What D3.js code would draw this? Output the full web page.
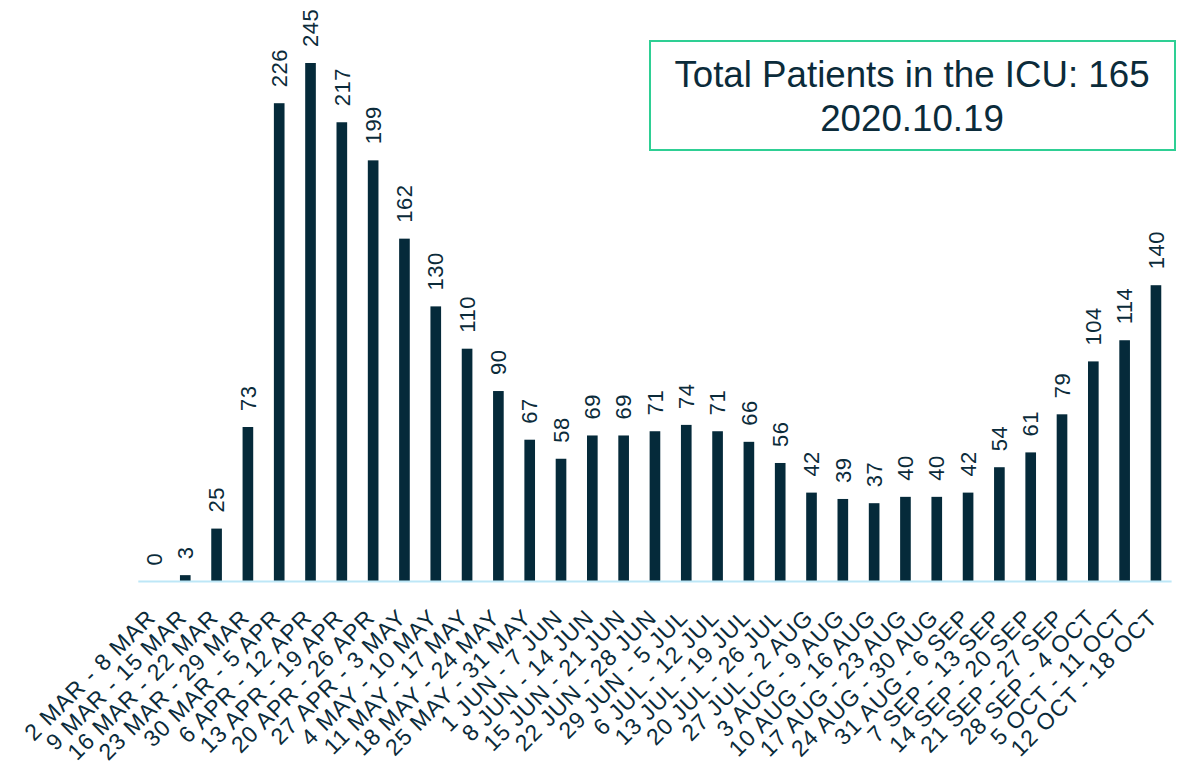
<!DOCTYPE html>
<html>
<head>
<meta charset="utf-8">
<script src="https://d3js.org/d3.v7.min.js"></script>
<style>
  body { margin: 0; background: #fff; }
  svg text { font-family: "Liberation Sans", Arial, sans-serif; fill: #0b2b3a; }
</style>
</head>
<body>
<div id="chart"></div>
<script>
// weekly ICU patient counts
var weeks = ["2 MAR - 8 MAR", "9 MAR - 15 MAR", "16 MAR - 22 MAR", "23 MAR - 29 MAR",
  "30 MAR - 5 APR", "6 APR - 12 APR", "13 APR - 19 APR", "20 APR - 26 APR",
  "27 APR - 3 MAY", "4 MAY - 10 MAY", "11 MAY - 17 MAY", "18 MAY - 24 MAY",
  "25 MAY - 31 MAY", "1 JUN - 7 JUN", "8 JUN - 14 JUN", "15 JUN - 21 JUN",
  "22 JUN - 28 JUN", "29 JUN - 5 JUL", "6 JUL - 12 JUL", "13 JUL - 19 JUL",
  "20 JUL - 26 JUL", "27 JUL - 2 AUG", "3 AUG - 9 AUG", "10 AUG - 16 AUG",
  "17 AUG - 23 AUG", "24 AUG - 30 AUG", "31 AUG - 6 SEP", "7 SEP - 13 SEP",
  "14 SEP - 20 SEP", "21 SEP - 27 SEP", "28 SEP - 4 OCT", "5 OCT - 11 OCT",
  "12 OCT - 18 OCT"];
var patients = [0, 3, 25, 73, 226, 245, 217, 199, 162, 130, 110, 90, 67, 58, 69, 69,
  71, 74, 71, 66, 56, 42, 39, 37, 40, 40, 42, 54, 61, 79, 104, 114, 140];
var titleLines = ["Total Patients in the ICU: 165", "2020.10.19"];

var width = 1183, height = 771;
var baseY = 581.5;

var svg = d3.select("#chart").append("svg")
  .attr("width", width)
  .attr("height", height);

var x = d3.scaleBand()
  .domain(weeks)
  .range([138.3, 1171.6])
  .paddingInner(0.66)
  .paddingOuter(0.33);

var y = d3.scaleLinear()
  .domain([0, 245])
  .range([baseY, 63]);

// bars
svg.selectAll("rect.bar")
  .data(patients)
  .join("rect")
  .attr("class", "bar")
  .attr("x", function(d, i) { return x(weeks[i]); })
  .attr("width", x.bandwidth())
  .attr("y", function(d) { return y(d); })
  .attr("height", function(d) { return baseY - y(d); })
  .attr("fill", "#052a3a");

// axis line
svg.append("line")
  .attr("x1", x.range()[0]).attr("x2", x.range()[1])
  .attr("y1", baseY).attr("y2", baseY)
  .attr("stroke", "#bde7f7")
  .attr("stroke-width", 2);

// value labels
svg.selectAll("text.val")
  .data(patients)
  .join("text")
  .attr("class", "val")
  .attr("transform", function(d, i) {
    var cx = x(weeks[i]) + x.bandwidth() / 2;
    return "translate(" + cx + "," + (y(d) - 16) + ") rotate(-90)";
  })
  .attr("dy", "0.35em")
  .style("font-size", "22px")
  .style("letter-spacing", "0.5px")
  .text(function(d) { return d; });

// category labels
svg.selectAll("text.cat")
  .data(weeks)
  .join("text")
  .attr("class", "cat")
  .attr("text-anchor", "end")
  .attr("transform", function(d) {
    var cx = x(d) + x.bandwidth() / 2;
    return "translate(" + (cx + 3) + "," + 619 + ") rotate(-45)";
  })
  .style("font-size", "23px")
  .style("letter-spacing", "1px")
  .text(function(d) { return d; });

// title box
svg.append("rect")
  .attr("x", 650).attr("y", 41)
  .attr("width", 525).attr("height", 109)
  .attr("fill", "none")
  .attr("stroke", "#2ecf94")
  .attr("stroke-width", 2);

svg.selectAll("text.title")
  .data(titleLines)
  .join("text")
  .attr("class", "title")
  .attr("x", 912)
  .attr("y", function(d, i) { return 87 + i * 44; })
  .attr("text-anchor", "middle")
  .style("font-size", "36.7px")
  .text(function(d) { return d; });
</script>
</body>
</html>
